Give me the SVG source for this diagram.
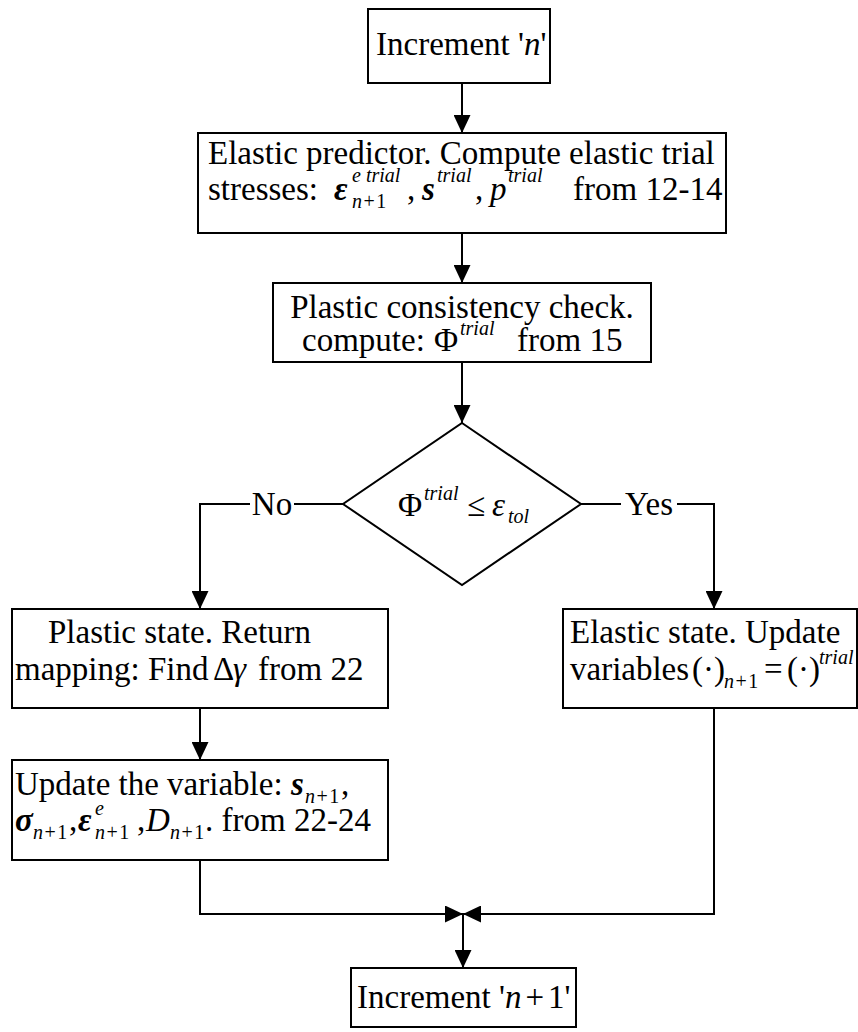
<svg xmlns="http://www.w3.org/2000/svg" width="858" height="1032" viewBox="0 0 858 1032">
  <defs>
    <marker id="arrow" viewBox="0 0 18 17" refX="18" refY="8.5" markerWidth="18" markerHeight="17" markerUnits="userSpaceOnUse" orient="auto">
      <path d="M0,0 L18,8.5 L0,17 Z" fill="#000"/>
    </marker>
    <style>
      .box { fill: #fff; stroke: #000; stroke-width: 2; }
      .line { fill: none; stroke: #000; stroke-width: 2; }
      .t { font-family: "Liberation Serif", "Times New Roman", serif; font-size: 33px; fill: #000; }
      .it { font-style: italic; }
      .bi { font-style: italic; font-weight: bold; }
      .sm { font-size: 20px; }
    </style>
  </defs>
  <rect width="858" height="1032" fill="#fff"/>

  <!-- connectors -->
  <g id="connectors">
    <path class="line" d="M462,83 V133" marker-end="url(#arrow)"/>
    <path class="line" d="M462,233 V283" marker-end="url(#arrow)"/>
    <path class="line" d="M462,362 V423" marker-end="url(#arrow)"/>
    <path class="line" d="M343,504 H294 M250,504 H200 V609" marker-end="url(#arrow)"/>
    <path class="line" d="M581,504 H621 M677,504 H714 V609" marker-end="url(#arrow)"/>
    <path class="line" d="M200,708 V760" marker-end="url(#arrow)"/>
    <path class="line" d="M200,860 V914 H463" marker-end="url(#arrow)"/>
    <path class="line" d="M714,708 V914 H463" marker-end="url(#arrow)"/>
    <path class="line" d="M463,914 V968" marker-end="url(#arrow)"/>
    <text class="t" x="272" y="515" text-anchor="middle">No</text>
    <text class="t" x="649" y="515" text-anchor="middle">Yes</text>
  </g>

  <!-- start -->
  <g id="start">
    <rect class="box" x="368" y="9" width="182" height="74"/>
    <text class="t" x="376" y="55">Increment '<tspan class="it">n</tspan>'</text>
  </g>

  <!-- elastic predictor -->
  <g id="predictor">
    <rect class="box" x="198" y="133" width="528" height="100"/>
    <text class="t" x="208" y="164">Elastic predictor. Compute elastic trial</text>
    <text class="t" y="200"><tspan x="208">stresses:</tspan><tspan x="334" class="bi">ε</tspan><tspan x="352" y="182" class="sm it">e trial</tspan><tspan x="352" y="208" class="sm"><tspan class="it">n</tspan><tspan dx="1.5">+</tspan><tspan dx="1.5">1</tspan></tspan><tspan x="407" y="200">,</tspan><tspan x="422" class="bi">s</tspan><tspan x="437" y="182" class="sm it">trial</tspan><tspan x="475" y="200">,</tspan><tspan x="490" class="it">p</tspan><tspan x="508" y="182" class="sm it">trial</tspan><tspan x="573" y="200">from 12-14</tspan></text>
  </g>

  <!-- consistency check -->
  <g id="check">
    <rect class="box" x="273" y="283" width="378" height="79"/>
    <text class="t" x="462" y="318" text-anchor="middle">Plastic consistency check.</text>
    <text class="t" y="351"><tspan x="302">compute:</tspan><tspan x="434">Φ</tspan><tspan x="460" y="335" class="sm it">trial</tspan><tspan x="517" y="351">from 15</tspan></text>
  </g>

  <!-- decision -->
  <g id="decision">
    <polygon class="box" points="462,423 581,504 462,585 343,504"/>
    <text class="t" y="516"><tspan x="398">Φ</tspan><tspan x="424" y="500" class="sm it">trial</tspan><tspan x="467" y="516">≤</tspan><tspan x="492" class="it">ε</tspan><tspan x="508" y="523" class="sm it">tol</tspan></text>
  </g>

  <!-- plastic branch -->
  <g id="return-mapping">
    <rect class="box" x="12" y="609" width="376" height="99"/>
    <text class="t" x="48" y="643">Plastic state. Return</text>
    <text class="t" y="680"><tspan x="15">mapping: Find</tspan><tspan x="213">Δ</tspan><tspan x="233" class="it">γ</tspan><tspan x="258">from 22</tspan></text>
  </g>

  <g id="update">
    <rect class="box" x="12" y="760" width="376" height="100"/>
    <text class="t" y="795"><tspan x="15">Update the variable:</tspan><tspan x="291" class="bi">s</tspan><tspan x="305" y="803" class="sm"><tspan class="it">n</tspan><tspan dx="1.5">+</tspan><tspan dx="1.5">1</tspan></tspan><tspan x="341" y="795">,</tspan></text>
    <text class="t" y="831"><tspan x="15" class="bi">σ</tspan><tspan x="33" y="839" class="sm"><tspan class="it">n</tspan><tspan dx="1.5">+</tspan><tspan dx="1.5">1</tspan></tspan><tspan x="69" y="831">,</tspan><tspan x="78" class="bi">ε</tspan><tspan x="95" y="815" class="sm it">e</tspan><tspan x="95" y="839" class="sm"><tspan class="it">n</tspan><tspan dx="1.5">+</tspan><tspan dx="1.5">1</tspan></tspan><tspan x="137" y="831">,</tspan><tspan x="146" class="it">D</tspan><tspan x="170" y="839" class="sm"><tspan class="it">n</tspan><tspan dx="1.5">+</tspan><tspan dx="1.5">1</tspan></tspan><tspan x="205" y="831">. from 22-24</tspan></text>
  </g>

  <!-- elastic branch -->
  <g id="elastic-state">
    <rect class="box" x="563" y="609" width="294" height="99"/>
    <text class="t" x="570" y="643">Elastic state. Update</text>
    <text class="t" y="680"><tspan x="570">variables</tspan><tspan x="692">(·)</tspan><tspan x="724" y="688" class="sm"><tspan class="it">n</tspan><tspan dx="1.5">+</tspan><tspan dx="1.5">1</tspan></tspan><tspan x="764" y="680">=</tspan><tspan x="787">(·)</tspan><tspan x="819" y="664" class="sm it">trial</tspan></text>
  </g>

  <!-- end -->
  <g id="end">
    <rect class="box" x="351" y="968" width="225" height="59"/>
    <text class="t" y="1008"><tspan x="357">Increment '</tspan><tspan class="it">n</tspan><tspan dx="4">+</tspan><tspan dx="4">1</tspan><tspan>'</tspan></text>
  </g>
</svg>
